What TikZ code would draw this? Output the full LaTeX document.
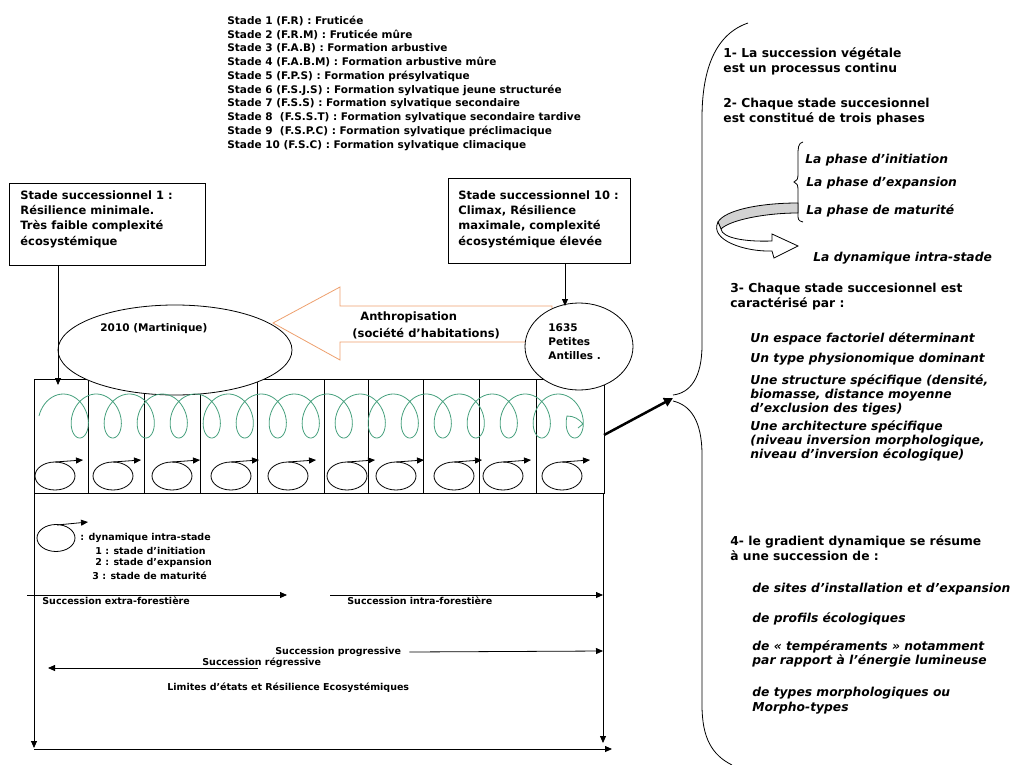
\documentclass[tikz,border=0pt]{standalone}
\usepackage{fontspec}
\setmainfont{DejaVu Sans}
\usetikzlibrary{arrows.meta,shapes.geometric}
\definecolor{anthro}{RGB}{238,160,110}
\definecolor{spire}{RGB}{70,160,125}
\tikzset{
  arr/.style={-{Triangle[length=7pt,width=6pt]}},
  box/.style={draw, anchor=north west, inner sep=0pt},
  lgd/.style={anchor=west, inner sep=0pt, font=\bfseries\fontsize{10.5}{14}\selectfont},
  boxtxt/.style={anchor=north west, inner sep=0pt, align=left, font=\bfseries\fontsize{11.5}{15.3}\selectfont},
  rtxt/.style={anchor=north west, inner sep=0pt, align=left, font=\bfseries\fontsize{12.3}{15}\selectfont},
  rit/.style={rtxt, font=\bfseries\itshape\fontsize{12.3}{14.3}\selectfont},
  btxt/.style={anchor=west, inner sep=0pt, font=\bfseries\fontsize{9.5}{12}\selectfont}
}
\begin{document}
\begin{tikzpicture}[x=1pt, y=-1pt, line width=0.8pt]
    \useasboundingbox (0,0) rectangle (1014,765);

    % Stades list
    \foreach \s [count=\i] in {Stade 1 (F.R) : Fruticée, Stade 2 (F.R.M) : Fruticée mûre,
        Stade 3 (F.A.B) : Formation arbustive, Stade 4 (F.A.B.M) : Formation arbustive mûre,
        Stade 5 (F.P.S) : Formation présylvatique, Stade 6 (F.S.J.S) : Formation sylvatique jeune structurée,
        Stade 7 (F.S.S) : Formation sylvatique secondaire, Stade 8 \ (F.S.S.T) : Formation sylvatique secondaire tardive,
        Stade 9 \ (F.S.P.C) : Formation sylvatique préclimacique, Stade 10 (F.S.C) : Formation sylvatique climacique}
        \node[lgd] (st\i) at (227,6.8+13.9*\i) {\s};

    % Draw the two stade boxes
    \node[box, minimum width=196pt, minimum height=82pt] (box1) at (9,183) {};
    \node[boxtxt] (box1t) at (20,190) {Stade successionnel 1 :\\Résilience minimale.\\Très faible complexité\\écosystémique};
    \node[box, minimum width=182pt, minimum height=85pt] (box10) at (448,178) {};
    \node[boxtxt] (box10t) at (458,190) {Stade successionnel 10 :\\Climax, Résilience\\maximale, complexité\\écosystémique élevée};

    % Draw the 10 cells
    \draw (34,379) rectangle (604,493);
    \foreach \x in {88,144,200,257,324,368,423,479,536}
        \draw (\x,379) -- (\x,493);

    % Anthropisation arrow
    \draw[anthro, fill=white] (273,323) -- (340,287) -- (340,306) -- (552,306) -- (552,342) -- (340,342) -- (340,360) -- cycle;
    \node[btxt, font=\bfseries\fontsize{11.5}{14}\selectfont] (anth) at (360,317) {Anthropisation};
    \node[btxt, font=\bfseries\fontsize{11.5}{14}\selectfont] (soc) at (352,334) {(société d’habitations)};

    % Ellipses
    \node[draw, ellipse, fill=white, minimum width=234pt, minimum height=90pt] (e2010) at (175,350) {};
    \node[lgd] (t2010) at (100,329) {2010 (Martinique)};
    \node[draw, ellipse, fill=white, minimum width=108pt, minimum height=87pt] (c1635) at (579,346.5) {};
    \node[rtxt, font=\bfseries\fontsize{10.5}{14}\selectfont] (t1635) at (548,323) {1635\\Petites\\Antilles .};

    % Green spiral
    \draw[spire, line width=0.8pt] plot[domain=90:5850, samples=700, variable=\t]
        ({46.75+\t/360*33-16*sin(\t)}, {416+22*cos(\t)}) .. controls (574,416) and (579,419) .. (583,424) -- (578,428);

    % Intra-stade loops
    \foreach \cx in {55,113,172,231,288,347,396,454,503,562} {
        \draw (\cx,476) ellipse (20 and 14);
        \draw[arr] (\cx,462) -- (\cx+28,460);
    }

    % Box arrows
    \coordinate (cell1) at (58,385);
    \draw[arr] (box1.south -| cell1) -- (cell1);
    \coordinate (c10) at (565,306);
    \draw[arr] (box10.south -| c10) -- (c10);

    % Thick arrow and big brace
    \coordinate (gridE) at (604,435);
    \coordinate (apex) at (673,398);
    \draw[line width=2.5pt, -{Triangle[length=9pt,width=9pt]}] (gridE) -- (apex);
    \draw (748,23) .. controls (716,34) and (702,68) .. (702,118) -- (702,345) .. controls (702,378) and (690,393) .. (673,395);
    \draw (673,401) .. controls (690,405) and (702,420) .. (702,455) -- (702,705) .. controls (702,738) and (712,755) .. (732,765);

    % Right column
    \node[rtxt] (p1) at (723,47) {1- La succession végétale\\est un processus continu};
    \node[rtxt] (p2) at (723,98) {2- Chaque stade succesionnel\\est constitué de trois phases};
    \draw (803,142) .. controls (798,143) and (798,148) .. (798,156) -- (798,174) .. controls (798,179) and (797,181) .. (794,182)
        .. controls (797,183) and (798,185) .. (798,190) -- (798,214) .. controls (798,219) and (798,221) .. (803,222);
    \node[rit] (ph1) at (805,154) {La phase d’initiation};
    \node[rit] (ph2) at (806,177) {La phase d’expansion};
    \node[rit] (ph3) at (806,204) {La phase de maturité};
    \draw[fill=gray!35] (798,203) .. controls (760,203) and (725,210) .. (718,222) -- (721,229) .. controls (730,220) and (765,213) .. (798,213) -- cycle;
    \draw[fill=white] (718,222) .. controls (709,240) and (745,252) .. (772,251) -- (774,258) -- (798,246) -- (772,234) -- (772,241)
        .. controls (745,242) and (722,238) .. (721,229) -- cycle;
    \node[rit] (dyn) at (813,252) {La dynamique intra-stade};
    \node[rtxt] (p3) at (730,283) {3- Chaque stade succesionnel est\\caractérisé par :};
    \node[rit] (c1) at (750,332) {Un espace factoriel déterminant};
    \node[rit] (c2) at (750,353) {Un type physionomique dominant};
    \node[rit] (c3) at (750,374) {Une structure spécifique (densité,\\biomasse, distance moyenne\\d’exclusion des tiges)};
    \node[rit] (c4) at (750,420) {Une architecture spécifique\\(niveau inversion morphologique,\\niveau d’inversion écologique)};
    \node[rtxt] (p4) at (730,535) {4- le gradient dynamique se résume\\à une succession de :};
    \node[rit] (g1) at (752,583) {de sites d’installation et d’expansion};
    \node[rit] (g2) at (752,612) {de profils écologiques};
    \node[rit] (g3) at (752,640) {de « tempéraments » notamment\\par rapport à l’énergie lumineuse};
    \node[rit] (g4) at (752,687) {de types morphologiques ou\\Morpho-types};

    % Legend under the cells
    \draw (56,538) ellipse (19 and 13.5);
    \draw[arr] (57,525) -- (88,522);
    \node[btxt] (l0) at (80,538) {: dynamique intra-stade};
    \node[btxt] (l1) at (95,551) {1 : stade d’initiation};
    \node[btxt] (l2) at (95,563) {2 : stade d’expansion};
    \node[btxt] (l3) at (92,576) {3 : stade de maturité};

    % Succession arrows
    \node[btxt] (extra) at (42,601) {Succession extra-forestière};
    \node[btxt] (intra) at (347,601) {Succession intra-forestière};
    \node[btxt] (prog) at (275,652) {Succession progressive};
    \node[btxt] (regr) at (202,663) {Succession régressive};
    \node[btxt] (lim) at (167,688) {Limites d’états et Résilience Ecosystémiques};
    \coordinate (exA) at (27,595);   \coordinate (exB) at (287,595);
    \coordinate (inA) at (330,595);  \coordinate (inB) at (603,595);
    \coordinate (prB) at (603,651);  \coordinate (reA) at (258,668);
    \coordinate (reB) at (48,668);
    \draw[arr] (exA) -- (exB);
    \draw[arr] (inA) -- (inB);
    \draw[arr] (prog.east) ++(8,0) -- (prB);
    \draw[arr] (reA) -- (reB);
    \draw[arr] (34,493) -- (34,748);
    \draw[arr] (603,493) -- (603,743);
    \draw[arr] (34,749) -- (612,749);
\end{tikzpicture}
\end{document}
